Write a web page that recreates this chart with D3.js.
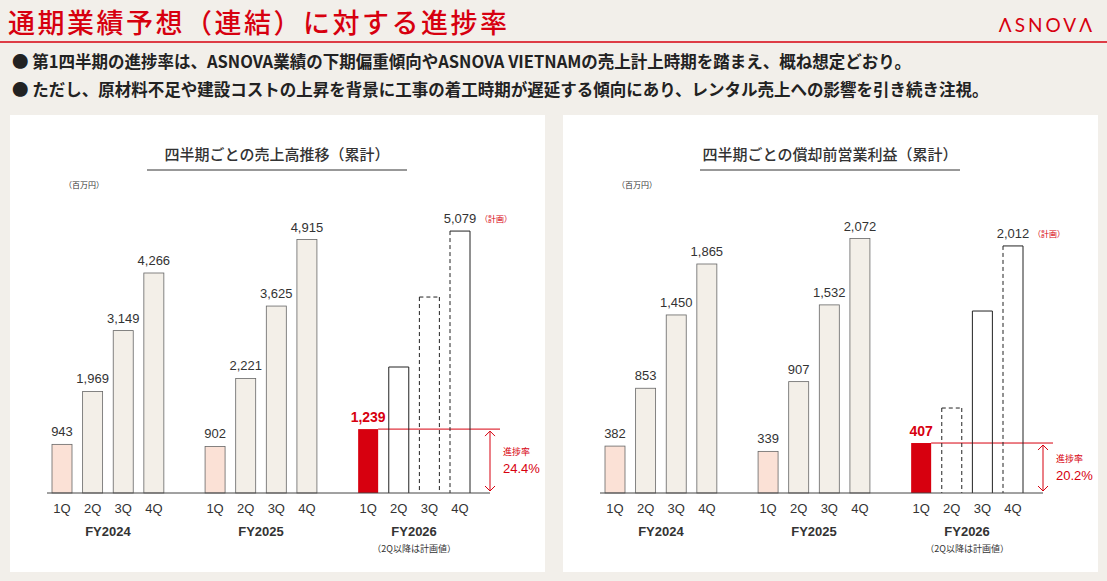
<!DOCTYPE html>
<html><head><meta charset="utf-8">
<script src="https://cdn.jsdelivr.net/npm/d3@7"></script>
<style>
body{margin:0;background:#f2efea;font-family:"Noto Sans CJK JP","Noto Sans",sans-serif}
</style></head><body>
<svg id="c" width="1107" height="581"></svg>
<script>
const years = ['FY2024', 'FY2025', 'FY2026']
const quarters = ['1Q', '2Q', '3Q', '4Q']
const salesValues = [943, 1969, 3149, 4266, 902, 2221, 3625, 4915, 1239, 2443, 3800, 5079]
const profitValues = [382, 853, 1450, 1865, 339, 907, 1532, 2072, 407, 692, 1482, 2012]
// outline style of the planned bars (2Q..4Q of FY2026)
const salesPlanStyle = ['solid', 'dashed', 'halfdash']
const profitPlanStyle = ['dashed', 'solid', 'halfdash']
const salesRate = '24.4%'
const profitRate = '20.2%'

const svg = d3.select('#c')
const red = '#d7000f'

// header
svg.append('text').attr('x', 8).attr('y', 33).attr('font-size', 27).attr('font-weight', 500)
  .attr('fill', red).attr('letter-spacing', 2.5).text('通期業績予想（連結）に対する進捗率')
svg.append('text').attr('x', 1095).attr('y', 32).attr('text-anchor', 'end').attr('font-size', 19)
  .attr('fill', red).attr('letter-spacing', 3).attr('font-family', 'Lato,sans-serif').text('ΛSNOVΛ')
svg.append('line').attr('x1', 0).attr('x2', 1107).attr('y1', 42).attr('y2', 42).attr('stroke', red).attr('stroke-width', 1.5)
const bullets = ['第1四半期の進捗率は、ASNOVA業績の下期偏重傾向やASNOVA VIETNAMの売上計上時期を踏まえ、概ね想定どおり。',
  'ただし、原材料不足や建設コストの上昇を背景に工事の着工時期が遅延する傾向にあり、レンタル売上への影響を引き続き注視。']
bullets.forEach((b, i) => {
  svg.append('text').attr('x', 12).attr('y', 68 + i * 28).attr('font-size', 16.5).attr('font-weight', 700)
    .attr('fill', '#222').text('● ' + b)
})

function panel (x0, title, values, planStyle, rate, k) {
  const g = svg.append('g')
  g.append('rect').attr('x', x0).attr('y', 115).attr('width', 535).attr('height', 457).attr('fill', '#fff')
  const cx = x0 + 267
  g.append('text').attr('x', cx).attr('y', 160).attr('text-anchor', 'middle').attr('font-size', 15)
    .attr('font-weight', 500).attr('fill', '#333').text(title)
  g.append('line').attr('x1', cx - 130).attr('x2', cx + 130).attr('y1', 170).attr('y2', 170).attr('stroke', '#333')
  g.append('text').attr('x', x0 + 54).attr('y', 188).attr('font-size', 8).attr('fill', '#333').text('（百万円）')

  const base = 493
  const x = d3.scaleLinear().domain([0, 13]).range([x0 + 52, x0 + 450])
  const y = d3.scaleLinear().domain([0, k]).range([base, base - 220])
  const slot = i => Math.floor(i / 4) * 5 + (i % 4)
  const bw = 20

  values.forEach((v, i) => {
    const q = i % 4, yr = Math.floor(i / 4)
    const bx = x(slot(i)) - bw / 2, by = y(v), h = base - by
    if (yr < 2) {
      g.append('rect').attr('x', bx).attr('y', by).attr('width', bw).attr('height', h)
        .attr('fill', q === 0 ? '#fbe1d6' : '#f3efe8').attr('stroke', '#666').attr('stroke-width', 0.8)
      g.append('text').attr('x', bx + bw / 2).attr('y', by - 8).attr('text-anchor', 'middle')
        .attr('font-size', 13).attr('fill', '#333').attr('font-family', 'Arial,Liberation Sans').text(d3.format(',')(v))
    } else if (q === 0) {
      g.append('rect').attr('x', bx).attr('y', by).attr('width', bw).attr('height', h).attr('fill', red)
      g.append('text').attr('x', bx + bw / 2).attr('y', by - 7).attr('text-anchor', 'middle')
        .attr('font-size', 14).attr('font-weight', 700).attr('fill', red).attr('font-family', 'Arial,Liberation Sans').text(d3.format(',')(v))
      // progress line and arrow
      const lx = x(13) + 30
      g.append('line').attr('x1', bx + bw).attr('x2', lx + 10).attr('y1', by).attr('y2', by).attr('stroke', red)
      g.append('line').attr('x1', lx).attr('x2', lx).attr('y1', by + 2).attr('y2', base - 2).attr('stroke', red)
      g.append('path').attr('d', `M${lx - 5},${by + 7}L${lx},${by + 2}L${lx + 5},${by + 7}M${lx - 5},${base - 7}L${lx},${base - 2}L${lx + 5},${base - 7}`)
        .attr('fill', 'none').attr('stroke', red)
      const my = (by + base) / 2
      g.append('text').attr('x', lx + 13).attr('y', my - 6).attr('font-size', 9).attr('fill', red).text('進捗率')
      g.append('text').attr('x', lx + 13).attr('y', my + 12).attr('font-size', 13).attr('fill', red)
        .attr('font-family', 'Arial,Liberation Sans').text(rate)
    } else {
      const st = planStyle[q - 1]
      const side = (x1, y1, x2, y2, dash) => g.append('line').attr('x1', x1).attr('y1', y1).attr('x2', x2).attr('y2', y2)
        .attr('stroke', '#222').attr('stroke-width', 1).attr('stroke-dasharray', dash ? '4,3' : null)
      const d = st === 'dashed'
      side(bx, by, bx + bw, by, d)
      side(bx, by, bx, base, d || st === 'halfdash')
      side(bx + bw, by, bx + bw, base, d)
      if (q === 3) {
        g.append('text').attr('x', bx + bw / 2).attr('y', by - 8).attr('text-anchor', 'middle')
          .attr('font-size', 13).attr('fill', '#333').attr('font-family', 'Arial,Liberation Sans').text(d3.format(',')(v))
        g.append('text').attr('x', bx + bw + 10).attr('y', by - 9).attr('font-size', 8).attr('fill', red).text('（計画）')
      }
    }
    g.append('text').attr('x', bx + bw / 2).attr('y', 513).attr('text-anchor', 'middle').attr('font-size', 13)
      .attr('fill', '#333').attr('font-family', 'Arial,Liberation Sans').text(quarters[q])
  })
  g.append('line').attr('x1', x0 + 37).attr('x2', x(13) + 30).attr('y1', base).attr('y2', base).attr('stroke', '#444')
  years.forEach((yrName, j) => {
    const gx = (x(j * 5) + x(j * 5 + 3)) / 2
    g.append('text').attr('x', gx).attr('y', 536).attr('text-anchor', 'middle').attr('font-size', 13)
      .attr('font-weight', 700).attr('fill', '#333').attr('font-family', 'Arial,Liberation Sans').text(yrName)
  })
  g.append('text').attr('x', (x(10) + x(13)) / 2).attr('y', 552).attr('text-anchor', 'middle').attr('font-size', 9)
    .attr('fill', '#333').text('（2Q以降は計画値）')
}

panel(10, '四半期ごとの売上高推移（累計）', salesValues, salesPlanStyle, salesRate, 4266)
panel(563, '四半期ごとの償却前営業利益（累計）', profitValues, profitPlanStyle, profitRate, 1865 * 220 / 229)
</script></body></html>
